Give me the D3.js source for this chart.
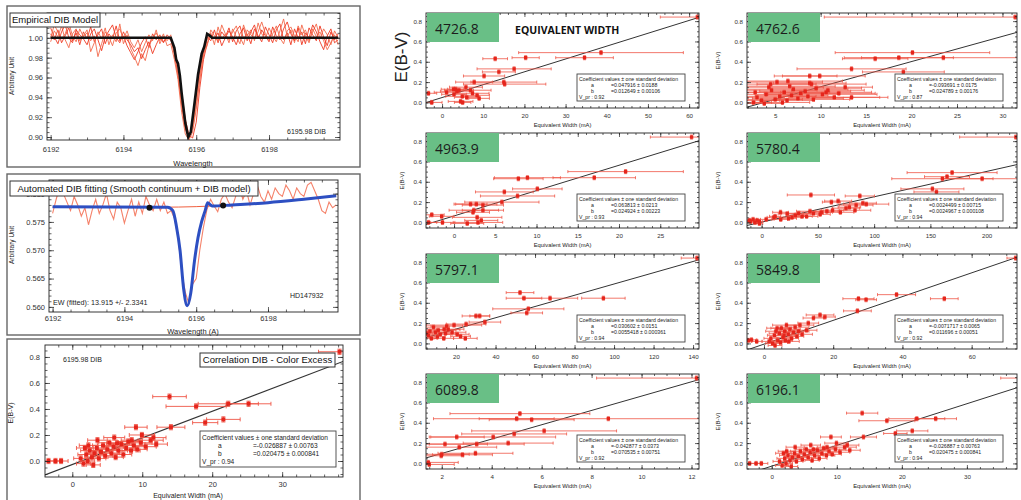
<!DOCTYPE html>
<html>
<head>
<meta charset="utf-8">
<script src="https://cdn.jsdelivr.net/npm/d3@7"></script>
<style>
  body { margin: 0; background: #fff; }
  svg { display: block; font-family: "Liberation Sans", Arial, sans-serif; }
</style>
</head>
<body>
<svg id="chart" width="1021" height="500"></svg>
<script>
// ---- spectra (wavelength grid, Angstrom) ----
const wave = [6192.0,6192.1,6192.2,6192.3,6192.4,6192.5,6192.6,6192.7,6192.8,6192.9,
  6193.0,6193.1,6193.2,6193.3,6193.4,6193.5,6193.6,6193.7,6193.8,6193.9,
  6194.0,6194.1,6194.2,6194.3,6194.4,6194.5,6194.6,6194.7,6194.8,6194.9,
  6195.0,6195.1,6195.2,6195.3,6195.4,6195.5,6195.6,6195.7,6195.8,6195.9,
  6196.0,6196.1,6196.2,6196.3,6196.4,6196.5,6196.6,6196.7,6196.8,6196.9,
  6197.0,6197.1,6197.2,6197.3,6197.4,6197.5,6197.6,6197.7,6197.8,6197.9,
  6198.0,6198.1,6198.2,6198.3,6198.4,6198.5,6198.6,6198.7,6198.8,6198.9,
  6199.0,6199.1,6199.2,6199.3,6199.4,6199.5,6199.6,6199.7,6199.8,6199.9];

// normalised spectra of several stars around the 6196 DIB
const specA = [1.004,0.998,1.008,0.995,1.002,1.010,0.997,1.005,0.993,1.006,
  0.999,1.011,0.996,1.003,1.009,0.994,1.004,0.999,1.012,0.997,
  1.002,0.992,0.985,0.978,0.986,0.995,1.001,0.990,1.004,0.998,
  1.003,0.996,1.000,0.998,0.985,0.962,0.932,0.908,0.899,0.912,
  0.940,0.968,0.986,1.001,0.997,1.008,0.995,1.006,1.001,1.010,
  0.996,1.007,1.012,0.999,1.004,0.994,1.009,1.002,0.996,1.011,
  1.003,0.995,1.008,1.014,0.998,1.005,0.993,1.009,1.000,1.006,
  0.994,1.010,1.003,0.997,1.012,1.001,0.992,1.006,0.998,1.004];
const specB = [0.996,1.007,1.001,1.012,0.998,0.990,1.004,1.009,0.997,1.002,
  1.008,0.986,0.995,1.006,0.999,1.010,0.993,1.003,0.996,1.014,
  0.994,1.003,0.989,0.981,0.972,0.984,0.977,0.992,0.999,1.005,
  0.997,1.004,0.992,0.994,0.978,0.958,0.925,0.903,0.897,0.905,
  0.928,0.958,0.982,0.998,1.005,0.993,1.011,0.999,1.004,0.995,
  1.009,1.001,0.994,1.013,1.002,1.008,0.997,1.015,1.004,0.999,
  1.010,1.002,0.996,1.007,1.019,1.001,1.008,0.995,1.012,1.003,
  1.008,0.997,1.006,1.014,0.999,1.009,1.003,0.993,1.007,1.000];
const specC = [1.010,1.001,0.994,1.006,1.013,1.000,0.995,1.008,1.003,0.999,
  0.993,1.004,1.009,0.998,0.987,1.001,1.007,1.013,1.000,0.995,
  1.006,0.998,0.993,0.986,0.990,0.979,0.988,0.996,0.984,0.993,
  1.001,0.995,1.003,0.999,0.990,0.970,0.945,0.918,0.902,0.899,
  0.915,0.950,0.978,0.994,1.003,0.999,1.005,0.992,1.000,1.007,
  1.001,0.993,1.004,1.010,0.997,1.006,1.013,0.999,1.008,1.002,
  0.996,1.011,1.002,0.998,1.009,1.016,1.004,0.997,1.010,0.993,
  1.005,1.000,1.013,1.006,0.996,0.988,1.002,1.009,0.995,0.998];
const specD = [1.000,1.013,1.006,0.999,1.004,1.015,1.002,0.996,1.009,1.001,
  1.005,0.997,1.002,0.981,0.994,1.006,1.001,0.992,1.005,1.009,
  0.999,1.007,0.996,0.990,0.998,0.986,0.995,1.003,0.997,1.008,
  0.994,1.002,0.997,1.003,0.982,0.962,0.934,0.910,0.902,0.908,
  0.932,0.962,0.984,0.992,1.008,1.002,0.996,1.013,1.004,0.998,
  1.006,1.012,1.001,0.993,1.008,1.003,0.999,1.006,1.016,1.004,
  0.998,1.004,1.012,1.000,0.994,1.007,1.011,1.002,0.996,1.013,
  1.002,0.995,1.009,1.001,1.006,0.997,0.988,0.995,1.003,0.993];
// empirical DIB model (wavelength, flux)
const modelDIB = [[6192,1.0],[6195.3,1.0],[6195.4,0.99],[6195.45,0.978],[6195.5,0.974],[6195.55,0.962],
  [6195.6,0.944],[6195.7,0.914],[6195.78,0.900],[6195.85,0.905],[6195.95,0.933],[6196.05,0.963],
  [6196.15,0.984],[6196.22,0.991],[6196.3,1.004],[6196.38,1.002],[6196.43,1.0],[6199.9,1.0]];

// HD147932 spectrum, continuum and fit
const specHD = [0.5765,0.5790,0.5812,0.5800,0.5785,0.5770,0.5795,0.5780,0.5760,0.5775,
  0.5745,0.5770,0.5790,0.5765,0.5780,0.5800,0.5770,0.5755,0.5785,0.5775,
  0.5748,0.5770,0.5790,0.5760,0.5785,0.5765,0.5795,0.5780,0.5770,0.5790,
  0.5770,0.5785,0.5765,0.5770,0.5755,0.5720,0.5660,0.5625,0.5605,0.5640,
  0.5650,0.5700,0.5740,0.5772,0.5790,0.5778,0.5768,0.5790,0.5800,0.5785,
  0.5775,0.5795,0.5812,0.5790,0.5805,0.5780,0.5800,0.5815,0.5795,0.5785,
  0.5805,0.5790,0.5810,0.5800,0.5795,0.5815,0.5805,0.5790,0.5810,0.5800,
  0.5795,0.5815,0.5820,0.5805,0.5790,0.5770,0.5765,0.5785,0.5775,0.5780];
const continuumHD = [[6192,0.5776],[6194,0.5776],[6195,0.5776],[6196,0.5777],[6197,0.5780],
  [6198,0.5784],[6199,0.5790],[6199.9,0.5796]];
const fitHD = [[6192,0.5777],[6195.2,0.5776],[6195.35,0.5770],[6195.45,0.5742],[6195.55,0.5700],
  [6195.65,0.5632],[6195.75,0.5602],[6195.85,0.5625],[6195.95,0.5680],[6196.05,0.5722],[6196.15,0.5750],
  [6196.25,0.5770],[6196.32,0.5784],[6196.4,0.5780],[6196.45,0.5778],[6197,0.5780],[6198,0.5784],
  [6199,0.5790],[6199.9,0.5796]];
const anchorsHD = [[6194.7,0.5775],[6196.75,0.5779]];

// ---- correlations: [equivalent width (mA), E(B-V), EW error] ----
const ew4726 = [[62.0,0.84,9],[38.6,0.49,20],[34.6,0.44,7],[20.3,0.44,3.3],[12.9,0.43,3],[17.5,0.33,9],
  [13.8,0.30,4],[10.2,0.26,5],[15.0,0.20,8],[15.2,0.18,10],[7.8,0.20,4.5],[5.8,0.15,4],[-3.3,0.09,2],
  [2.8,0.13,3],[3.6,0.11,4],[2.9,0.08,3],[4.1,0.12,3.5],[4.9,0.06,4],[6.9,0.12,5],[7.4,0.09,4],
  [8.5,0.07,3],[9.0,0.04,2.5],[4.5,0.01,3],[5.0,0.00,2],[-2.5,0.00,2.5],[1.1,0.10,3],[3.3,0.13,2],[6.0,0.05,3]];
const ew4762 = [[31.4,0.84,21],[20.1,0.49,8.5],[16.0,0.43,3.6],[18.6,0.44,6],[23.5,0.44,9],[13.4,0.33,6],
  [19.1,0.30,4.5],[9.9,0.26,5],[8.8,0.26,3],[6.4,0.21,6],[4.5,0.18,5],[8.8,0.19,4],[12.7,0.15,3],
  [13.4,0.05,4],[10.6,0.10,5],[3.0,0.05,3],[3.5,0.02,2],[4.0,0.08,4],[4.6,0.12,5],[5.0,0.03,3],
  [5.5,0.06,4],[6.0,0.10,5],[6.3,0.02,3],[6.8,0.07,4],[7.0,0.13,6],[7.5,0.04,5],[7.8,0.09,4],
  [8.3,0.11,5],[8.6,0.06,3],[9.2,0.03,4],[9.5,0.14,5],[10.2,0.08,6],[10.8,0.12,4],[11.5,0.05,5],
  [12.0,0.09,4],[2.6,0.00,2],[3.8,-0.01,2],[4.3,0.15,6],[5.2,0.20,5],[9.0,0.18,6],[2.8,0.10,3],
  [6.6,0.16,5],[5.8,0.00,3]];
const ew4963 = [[28.8,0.84,5],[20.8,0.50,7],[17.0,0.44,5],[8.9,0.44,4],[7.8,0.43,3],[10.1,0.33,3],
  [6.1,0.30,3.5],[7.7,0.26,4.5],[5.8,0.20,4.5],[2.0,0.18,2],[2.7,0.18,2.5],[3.5,0.17,2.5],[2.4,0.12,3],
  [3.5,0.12,2.5],[2.3,0.10,2],[-2.7,0.075,1.5],[-1.5,0.06,1.5],[-3.1,0.0,1],[-1.4,0.0,1.5],
  [1.6,-0.01,2],[2.9,0.0,3],[3.3,0.02,2],[2.8,0.05,3]];
const ew5780 = [[226,0.84,50],[169.3,0.49,40],[160.7,0.43,45],[164.8,0.45,20],[196,0.43,35],[151.8,0.33,28],
  [155.4,0.30,20],[43.8,0.27,21],[87.3,0.26,13],[68,0.21,12],[93,0.18,20],[84,0.17,15],[75,0.14,12],
  [63,0.12,10],[53,0.10,10],[43,0.11,12],[33,0.09,9],[22.7,0.085,8],[16.8,0.10,7],[10.9,0.05,6],
  [27,0.05,8],[40,0.06,10],[52,0.08,9],[70,0.10,12],[83,0.12,14],[-10,0.01,3],[-6,0.0,3],[-7.6,0.03,3],
  [-2,0.01,3],[4,0.03,5],[-2,-0.01,3],[17,0.03,6],[30,0.07,8],[58,0.11,10],[46,0.09,9],[36,0.06,9],
  [24,0.04,7],[78,0.15,10],[90,0.19,12],[12,0.06,5],[62,0.20,8],[-11,0.02,2],[-4,0.02,2]];
const ew5797 = [[142,0.84,8],[52.4,0.50,7],[54.4,0.445,9],[67.6,0.445,14],[94.6,0.445,11],[56.6,0.34,18],
  [55.8,0.30,8],[30.1,0.27,7],[32,0.27,5],[34.6,0.21,8],[25.1,0.19,10],[15.3,0.17,8],[16,0.135,6],
  [6.8,0.12,4],[9.5,0.11,5],[12,0.09,6],[14.7,0.10,5],[18,0.11,7],[20.6,0.09,6],[22.3,0.07,5],
  [10.5,0.065,4],[13.8,0.05,5],[24.7,0.05,6],[6,0.08,3],[8.6,0.16,8],[5.2,0.10,3],[14,0.14,10],
  [19,0.18,14],[7.5,0.05,3],[11,0.13,9]];
const ew5849 = [[72.7,0.84,2.5],[38.3,0.48,5.5],[27.3,0.44,4.5],[29.5,0.43,3],[52.1,0.44,4],[27,0.32,4],
  [16.2,0.28,4],[17.6,0.26,3],[14.3,0.25,3],[12.8,0.20,3],[10.4,0.18,4],[12.3,0.13,3],[2,0.05,2],
  [3,0.08,2],[3.5,0.12,3],[4,0.03,2],[4.5,0.10,3],[5,0.15,3],[5.5,0.06,2],[6,0.12,3],[6.5,0.18,4],
  [7,0.09,3],[7.5,0.14,3],[8,0.05,2],[8.5,0.11,3],[9,0.16,4],[9.5,0.07,2],[2.5,0.0,2],[3.2,-0.02,2],
  [4.8,0.01,2],[6.2,0.03,2],[7.2,0.02,3],[1.5,0.02,2],[5.8,0.08,3],[3.8,0.15,3],[10,0.12,3],
  [11,0.09,3],[-3.6,0.035,1.5],[-2.1,0.02,1.5],[-4.5,0.03,1]];
const ew6089 = [[12.2,0.84,4],[5.13,0.49,2.8],[5.0,0.44,1.5],[5.6,0.43,1.7],[8.67,0.44,7],[6.1,0.32,2.9],
  [4.9,0.29,2.1],[4.06,0.26,2.5],[2.6,0.26,1.1],[4.66,0.20,1.8],[3.4,0.19,1.9],[2.13,0.19,1.7],
  [2.7,0.16,1.5],[2.0,0.09,1.1],[3.35,0.10,1.5],[2.83,0.085,1.2],[1.46,0.01,1.2],[1.5,-0.01,1],
  [1.98,0.075,0.9]];
const ew6196 = [[38.2,0.84,3],[13.9,0.495,2.4],[17.7,0.42,4.3],[22.3,0.44,4.3],[25.2,0.44,3.2],
  [21.6,0.32,2.4],[19.0,0.295,1.8],[14.1,0.26,2],[9.1,0.26,1.6],[9.95,0.20,1.8],[11.6,0.18,1.8],
  [8.5,0.16,1.5],[6.4,0.136,1.5],[1.2,0.02,1],[1.6,-0.02,1],[2.0,0.05,1.2],[2.2,0.0,1],[2.5,0.08,1.3],
  [2.8,0.03,1],[3.0,-0.03,1],[3.2,0.06,1.2],[3.5,0.10,1.4],[3.8,0.02,1],[4.1,0.07,1.2],[4.4,0.12,1.5],
  [4.7,0.04,1.1],[5.0,0.09,1.3],[5.3,0.14,1.6],[5.6,0.06,1.2],[5.9,0.11,1.4],[6.2,0.03,1.1],
  [6.6,0.08,1.3],[7.0,0.13,1.5],[7.3,0.05,1.2],[7.7,0.10,1.4],[8.0,0.15,1.6],[8.4,0.08,1.3],
  [8.8,0.12,1.5],[9.3,0.09,1.4],[9.8,0.14,1.6],[10.5,0.11,1.5],[11.2,0.16,1.8],[12.0,0.13,1.6],
  [1.8,0.10,1.2],[3.6,0.16,1.4],[2.3,0.12,1.3],[6.0,0.18,1.5],[-3.4,0.0,1],[-2.4,0.0,1],[-1.6,0.0,1]];
const ebvErr = 0.02;

// fit coefficients E(B-V) = a + b * EW
const dibNames = ['4726.8', '4762.6', '4963.9', '5780.4', '5797.1', '5849.8', '6089.8', '6196.1'];
const coefA    = [0.047916, -0.093691, 0.063813, 0.0024499, 0.030602, -0.0071717, -0.042877, -0.026887];
const coefAErr = [0.0188, 0.0175, 0.0213, 0.00715, 0.0151, 0.0065, 0.0373, 0.00763];
const coefB    = [0.012649, 0.024789, 0.024924, 0.0024967, 0.0055418, 0.011696, 0.070535, 0.020475];
const coefBErr = [0.00106, 0.00176, 0.00223, 0.000108, 0.000361, 0.00051, 0.00751, 0.000841];
const vPr      = [0.92, 0.87, 0.93, 0.94, 0.94, 0.92, 0.92, 0.94];
const ewData   = [ew4726, ew4762, ew4963, ew5780, ew5797, ew5849, ew6089, ew6196];

const svg = d3.select('#chart');
const red = '#e5251c', barRed = '#ef5646';

let clipCount = 0;
function clipped(g, l, t, w, h) {
  const id = 'clip' + (clipCount++);
  svg.append('clipPath').attr('id', id)
    .append('rect').attr('x', l).attr('y', t).attr('width', w).attr('height', h);
  return g.append('g').attr('clip-path', `url(#${id})`);
}

// IDL style frame: inward major + minor ticks on every side
function axes(g, x, y, o) {
  const [l, r] = x.range(), [b, t] = y.range();
  const blank = () => '';
  const minor = (sc, step) => {
    const [d0, d1] = sc.domain();
    return d3.range(Math.ceil(d0 / step) * step, d1 + 1e-9, step);
  };
  const add = (gen, tr, vals, size, fmt) => {
    const a = g.append('g').attr('transform', tr)
      .call(gen.tickValues(vals).tickSize(size).tickPadding(o.pad).tickFormat(fmt));
    a.attr('font-family', null).attr('font-size', o.fs);
    a.select('.domain').remove();
    a.selectAll('line').attr('stroke', '#222').attr('stroke-width', 0.7);
    a.selectAll('text').attr('fill', '#333');
    return a;
  };
  const xm = minor(x, o.xm), ym = minor(y, o.ym);
  add(d3.axisBottom(x), `translate(0,${b})`, o.xt, -o.tl, o.xf).selectAll('text').attr('dy', '0.71em').attr('y', o.xpad);
  add(d3.axisBottom(x), `translate(0,${b})`, xm, -o.tl * 0.5, blank);
  add(d3.axisTop(x), `translate(0,${t})`, o.xt, -o.tl, blank);
  add(d3.axisTop(x), `translate(0,${t})`, xm, -o.tl * 0.5, blank);
  add(d3.axisLeft(y), `translate(${l},0)`, o.yt, -o.tl, o.yf);
  add(d3.axisLeft(y), `translate(${l},0)`, ym, -o.tl * 0.5, blank);
  add(d3.axisRight(y), `translate(${r},0)`, o.yt, -o.tl, blank);
  add(d3.axisRight(y), `translate(${r},0)`, ym, -o.tl * 0.5, blank);
  g.append('rect').attr('x', l).attr('y', t).attr('width', r - l).attr('height', b - t)
    .attr('fill', 'none').attr('stroke', '#222').attr('stroke-width', 0.9);
}

function scatter(g, x, y, pts, o) {
  const eb = g.append('g').attr('stroke', barRed).attr('stroke-width', o.ew);
  eb.selectAll('.xe').data(pts).enter().append('line')
    .attr('x1', d => x(d[0] - d[2])).attr('x2', d => x(d[0] + d[2]))
    .attr('y1', d => y(d[1])).attr('y2', d => y(d[1]));
  [-1, 1].forEach(s => {
    eb.selectAll('.xc' + s).data(pts).enter().append('line')
      .attr('x1', d => x(d[0] + s * d[2])).attr('x2', d => x(d[0] + s * d[2]))
      .attr('y1', d => y(d[1]) - o.cap).attr('y2', d => y(d[1]) + o.cap);
    eb.selectAll('.yc' + s).data(pts).enter().append('line')
      .attr('x1', d => x(d[0]) - o.cap).attr('x2', d => x(d[0]) + o.cap)
      .attr('y1', d => y(d[1] + s * ebvErr)).attr('y2', d => y(d[1] + s * ebvErr));
  });
  eb.selectAll('.ye').data(pts).enter().append('line')
    .attr('x1', d => x(d[0])).attr('x2', d => x(d[0]))
    .attr('y1', d => y(d[1] - ebvErr)).attr('y2', d => y(d[1] + ebvErr));
  g.append('g').selectAll('rect').data(pts).enter().append('rect')
    .attr('x', d => x(d[0]) - o.ms / 2).attr('y', d => y(d[1]) - o.ms / 2)
    .attr('width', o.ms).attr('height', o.ms).attr('fill', red);
}

function fitLine(g, x, y, i, w) {
  const xs = x.domain();
  g.append('path')
    .attr('d', d3.line().x(d => x(d)).y(d => y(coefA[i] + coefB[i] * d))(xs))
    .attr('stroke', '#333').attr('stroke-width', w).attr('fill', 'none');
}

function coefBox(g, x0, y0, w, h, i, fs, dx) {
  const bx = g.append('g');
  bx.append('rect').attr('x', x0).attr('y', y0).attr('width', w).attr('height', h)
    .attr('fill', '#fff').attr('stroke', '#444').attr('stroke-width', 0.9);
  const lh = (h - 3) / 4;
  const t = (tx, xx, k) => bx.append('text').attr('x', xx).attr('y', y0 + 2 + lh * (k + 0.8))
    .attr('font-size', fs).attr('fill', '#222').text(tx);
  t('Coefficient values \u00b1 one standard deviation', x0 + 2, 0);
  t('a', x0 + dx[0], 1); t(`=${coefA[i]} \u00b1 ${coefAErr[i]}`, x0 + dx[1], 1);
  t('b', x0 + dx[0], 2); t(`=${coefB[i]} \u00b1 ${coefBErr[i]}`, x0 + dx[1], 2);
  t(`V_pr : ${vPr[i]}`, x0 + 2, 3);
}

function titleBox(g, x0, y0, w, h, txt, fs) {
  g.append('rect').attr('x', x0).attr('y', y0).attr('width', w).attr('height', h)
    .attr('fill', '#fff').attr('stroke', '#333').attr('stroke-width', 1);
  g.append('text').attr('x', x0 + w / 2).attr('y', y0 + h / 2).attr('dy', '0.35em')
    .attr('text-anchor', 'middle').attr('font-size', fs).attr('fill', '#111').text(txt);
}

function vLabel(g, x0, y0, txt, fs) {
  g.append('text').attr('transform', `translate(${x0},${y0}) rotate(-90)`)
    .attr('text-anchor', 'middle').attr('font-size', fs).attr('fill', '#222').text(txt);
}
function hLabel(g, x0, y0, txt, fs) {
  g.append('text').attr('x', x0).attr('y', y0).attr('text-anchor', 'middle')
    .attr('font-size', fs).attr('fill', '#222').text(txt);
}

// ---- left column outer frames ----
[[7, 6, 353, 161], [7, 174, 353, 161], [7, 339, 353, 170]].forEach(([x0, y0, w, h]) => {
  svg.append('rect').attr('x', x0).attr('y', y0).attr('width', w).attr('height', h)
    .attr('fill', 'none').attr('stroke', '#666').attr('stroke-width', 1.4);
});

// ---- panel 1: empirical DIB model ----
{
  const g = svg.append('g');
  const x = d3.scaleLinear().domain([6191.9, 6199.95]).range([47, 340]);
  const y = d3.scaleLinear().domain([0.897, 1.025]).range([140, 13]);
  const c = clipped(g, 47, 13, 293, 127);
  const line = d3.line().x((d, i) => x(wave[i])).y(d => y(d));
  [specA, specB, specC, specD].forEach((s, k) => {
    c.append('path').attr('d', line(s)).attr('fill', 'none')
      .attr('stroke', k % 2 ? '#f36a4c' : '#ee3b25').attr('stroke-width', 1).attr('opacity', 0.9);
  });
  c.append('path').attr('d', d3.line().x(d => x(d[0])).y(d => y(d[1]))(modelDIB))
    .attr('fill', 'none').attr('stroke', '#111').attr('stroke-width', 2.6);
  axes(g, x, y, { xt: [6192, 6194, 6196, 6198], xm: 0.5, yt: [0.90, 0.92, 0.94, 0.96, 0.98, 1.00], ym: 0.005,
    xf: d3.format('d'), yf: d3.format('.2f'), fs: 7.5, pad: 4, xpad: 7, tl: 5 });
  titleBox(g, 10, 13, 90, 14, 'Empirical DIB Model', 9.5);
  g.append('text').attr('x', 287).attr('y', 134).attr('font-size', 7).attr('fill', '#222').text('6195.98 DIB');
  hLabel(g, 193, 166, 'Wavelength', 7.5);
  vLabel(g, 14, 76, 'Arbitrary Unit', 6.5);
}

// ---- panel 2: automated fitting ----
{
  const g = svg.append('g');
  const x = d3.scaleLinear().domain([6191.9, 6199.95]).range([49, 338]);
  const y = d3.scaleLinear().domain([0.5591, 0.5824]).range([312, 180]);
  const c = clipped(g, 49, 180, 289, 132);
  c.append('path').attr('d', d3.line().x((d, i) => x(wave[i])).y(d => y(d))(specHD))
    .attr('fill', 'none').attr('stroke', '#f5826a').attr('stroke-width', 1.1);
  c.append('path').attr('d', d3.line().curve(d3.curveMonotoneX).x(d => x(d[0])).y(d => y(d[1]))(continuumHD))
    .attr('fill', 'none').attr('stroke', '#f0603f').attr('stroke-width', 1);
  c.append('path').attr('d', d3.line().curve(d3.curveMonotoneX).x(d => x(d[0])).y(d => y(d[1]))(fitHD))
    .attr('fill', 'none').attr('stroke', '#2d4fc2').attr('stroke-width', 3);
  c.selectAll('circle').data(anchorsHD).enter().append('circle')
    .attr('cx', d => x(d[0])).attr('cy', d => y(d[1])).attr('r', 3).attr('fill', '#111');
  axes(g, x, y, { xt: [6192, 6194, 6196, 6198], xm: 0.5, yt: [0.560, 0.565, 0.570, 0.575, 0.580], ym: 0.001,
    xf: d3.format('d'), yf: d3.format('.3f'), fs: 7.5, pad: 4, xpad: 4, tl: 5 });
  titleBox(g, 10, 181, 248, 15, 'Automated DIB fitting (Smooth continuum + DIB model)', 9.5);
  g.append('text').attr('x', 53).attr('y', 305).attr('font-size', 7.2).attr('fill', '#222')
    .text('EW (fitted): 13.915  +/- 2.3341');
  g.append('text').attr('x', 290).attr('y', 298).attr('font-size', 7).attr('fill', '#222').text('HD147932');
  hLabel(g, 193, 334, 'Wavelength (A)', 7.5);
  vLabel(g, 14, 245, 'Arbitrary Unit', 6.5);
}

// ---- panel 3: correlation for 6195.98 ----
{
  const g = svg.append('g');
  const x = d3.scaleLinear().domain([-3.9, 38.7]).range([45, 343]);
  const y = d3.scaleLinear().domain([-0.123, 0.892]).range([477, 345]);
  const c = clipped(g, 45, 345, 298, 132);
  fitLine(c, x, y, 7, 1.1);
  scatter(c, x, y, ew6196, { ew: 0.9, cap: 2, ms: 4 });
  axes(g, x, y, { xt: [0, 10, 20, 30], xm: 2, yt: [0.0, 0.2, 0.4, 0.6, 0.8], ym: 0.05,
    xf: d3.format('d'), yf: d3.format('.1f'), fs: 7.5, pad: 5, xpad: 5, tl: 5 });
  g.append('text').attr('x', 63).attr('y', 362).attr('font-size', 7).attr('fill', '#222').text('6195.98 DIB');
  titleBox(g, 200, 353, 135, 14, 'Correlation DIB - Color Excess', 9.5);
  coefBox(g, 200, 431, 136, 36, 7, 6.6, [18, 53]);
  hLabel(g, 188, 498, 'Equivalent Width (mA)', 7);
  vLabel(g, 13, 413, 'E(B-V)', 7);
}

// ---- right grid: 8 DIBs ----
const gridCols = [[426, 699], [747, 1017]];
const gridTops = [13, 133, 254, 374];
const gridAxes = [
  { xd: [-3.9, 62.4], xt: [0, 10, 20, 30, 40, 50, 60], xm: 2 },
  { xd: [1.9, 31.6], xt: [5, 10, 15, 20, 25, 30], xm: 1 },
  { xd: [-3.4, 29.7], xt: [0, 5, 10, 15, 20, 25], xm: 1 },
  { xd: [-13, 227], xt: [0, 50, 100, 150, 200], xm: 10 },
  { xd: [4.8, 143], xt: [20, 40, 60, 80, 100, 120, 140], xm: 5 },
  { xd: [-4.9, 73.1], xt: [0, 20, 40, 60], xm: 5 },
  { xd: [1.37, 12.3], xt: [2, 4, 6, 8, 10, 12], xm: 0.5 },
  { xd: [-3.8, 37.7], xt: [0, 10, 20, 30], xm: 2 }
];

dibNames.forEach((name, i) => {
  const [l, r] = gridCols[i % 2];
  const t = gridTops[Math.floor(i / 2)], b = t + 95;
  const ax = gridAxes[i];
  const g = svg.append('g');
  const x = d3.scaleLinear().domain(ax.xd).range([l, r]);
  const y = d3.scaleLinear().domain([-0.055, 0.88]).range([b, t]);
  const c = clipped(g, l, t, r - l, b - t);
  fitLine(c, x, y, i, 1);
  scatter(c, x, y, ewData[i], { ew: 0.8, cap: 1.5, ms: 3.4 });
  axes(g, x, y, { xt: ax.xt, xm: ax.xm, yt: [0.0, 0.2, 0.4, 0.6, 0.8], ym: 0.05,
    xf: d3.format('d'), yf: d3.format('.1f'), fs: 6.2, pad: 4, xpad: 6, tl: 4 });
  g.append('rect').attr('x', l + 1).attr('y', t).attr('width', 72).attr('height', 29).attr('fill', '#69bf86');
  g.append('text').attr('x', l + 9).attr('y', t + 20.5).attr('font-size', 14).attr('fill', '#1c1c1c')
    .attr('font-family', '"Open Sans", "Liberation Sans", sans-serif').text(name);
  coefBox(g, r - 122, b - 34, 108, 27, i, 5.2, [14, 34]);
  hLabel(g, (l + r) / 2, b + 19, 'Equivalent Width (mA)', 5.8);
  if (i > 0) vLabel(g, l - (i % 2 ? 27 : 22), (t + b) / 2, 'E(B-V)', 6);
});

// grid headings
vLabel(svg, 407, 57, 'E(B-V)', 17);
svg.append('text').attr('x', 515).attr('y', 34).attr('font-size', 10.5).attr('font-weight', 'bold')
  .attr('fill', '#111').attr('font-family', '"Open Sans", "Liberation Sans", sans-serif').text('EQUIVALENT WIDTH');
</script>
</body>
</html>
